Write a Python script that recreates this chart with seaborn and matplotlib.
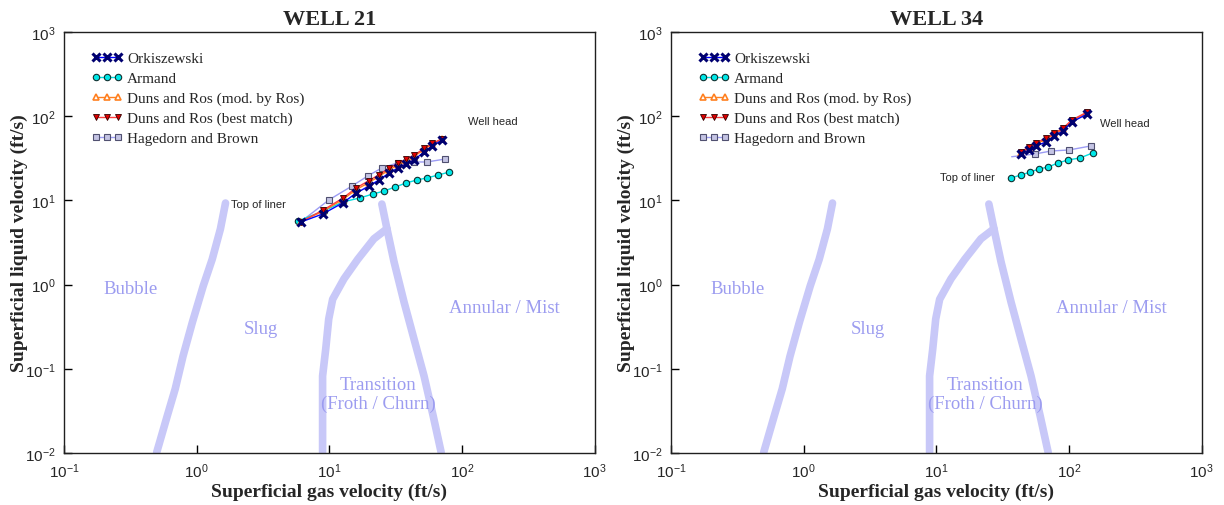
import matplotlib
matplotlib.use("Agg")
import matplotlib.pyplot as plt
import matplotlib.ticker as mticker
import pandas as pd
import seaborn as sns

# ---- flow regime boundaries (same map for both wells)
bubble_x = [1.65, 1.51, 1.31, 1.12, 0.93, 0.79, 0.69, 0.60, 0.50]
bubble_y = [9.3, 4.57, 2.0, 0.96, 0.36, 0.142, 0.058, 0.0275, 0.0102]
slug_x = [8.9, 8.9, 9.4, 9.9, 10.6, 12.9, 16.4, 21.7, 27.2]
slug_y = [0.0102, 0.082, 0.172, 0.39, 0.67, 1.17, 2.0, 3.5, 4.6]
annular_x = [24.9, 27.2, 30.8, 36.6, 43.5, 51.8, 60.7, 69.7]
annular_y = [9.05, 4.6, 1.85, 0.62, 0.226, 0.082, 0.0275, 0.0102]

# ---- WELL 21
w21_ork_x = [6.1, 8.9, 12.6, 15.9, 19.9, 23.7, 28.2, 33.0, 37.9, 43.5, 51.8, 59.6, 71.0]
w21_ork_y = [5.53, 6.89, 9.31, 12.2, 14.8, 17.5, 21.1, 24.3, 27.1, 30.2, 37.6, 44.3, 52.1]
w21_arm_x = [5.78, 9.08, 12.6, 17.0, 21.3, 25.8, 31.3, 37.9, 45.9, 54.6, 66.1, 80.1]
w21_arm_y = [5.69, 7.49, 9.57, 10.7, 11.9, 12.9, 14.4, 16.1, 17.5, 18.5, 20.0, 21.7]
w21_dmod_y = [5.6, 7.4, 10.2, 13.4, 16.3, 19.3, 23.0, 26.5, 29.6, 33.0, 40.5, 46.5, 53.5]
w21_dbest_y = [5.6, 7.6, 10.6, 14.0, 17.2, 20.2, 24.0, 27.6, 30.8, 34.2, 41.5, 47.5, 54.0]
w21_hag_x = [6.3, 9.9, 14.8, 19.5, 24.9, 33.0, 43.5, 54.6, 74.6]
w21_hag_y = [5.8, 10.1, 14.8, 19.5, 24.3, 28.0, 28.6, 28.6, 31.0]

# ---- WELL 34
w34_ork_x = [43.5, 50.0, 56.5, 67.2, 77.1, 90.1, 105, 137]
w34_ork_y = [35.6, 39.7, 44.3, 49.4, 58.2, 66.7, 85.3, 106]
w34_arm_x = [36.6, 43.5, 50.9, 59.5, 69.5, 82.6, 98.2, 121, 151]
w34_arm_y = [18.5, 20.0, 21.7, 23.6, 24.9, 27.8, 30.2, 31.9, 36.6]
w34_dmod_y = [37, 42, 47, 53, 61, 70, 88, 110]
w34_dbest_y = [38, 43, 48.5, 54.5, 62.5, 72, 90, 112]
w34_hag_x = [37, 55.5, 73.3, 100, 146]
w34_hag_y = [33.0, 35.6, 38.6, 39.7, 44.3]

wells = [
    dict(title="WELL 21", ork_x=w21_ork_x, ork_y=w21_ork_y, arm_x=w21_arm_x, arm_y=w21_arm_y,
         dmod_y=w21_dmod_y, dbest_y=w21_dbest_y, hag_x=w21_hag_x, hag_y=w21_hag_y,
         liner=(2.93, 9.06), head=(172, 87.7)),
    dict(title="WELL 34", ork_x=w34_ork_x, ork_y=w34_ork_y, arm_x=w34_arm_x, arm_y=w34_arm_y,
         dmod_y=w34_dmod_y, dbest_y=w34_dbest_y, hag_x=w34_hag_x, hag_y=w34_hag_y,
         liner=(17.1, 19.0), head=(264, 83)),
]

regions = [("Bubble", 0.32, 0.89), ("Slug", 3.03, 0.297), ("Annular / Mist", 208, 0.54),
           ("Transition\n(Froth / Churn)", 23.3, 0.05)]

sns.set_style("ticks")
plt.rcParams["font.family"] = ["Liberation Sans", "DejaVu Sans"]
SERIF = ["Liberation Serif", "DejaVu Serif"]
BOUND_COL = "#c8c8f8"
REGION_COL = "#9c9cf0"

fig = plt.figure(figsize=(12.24, 5.06), dpi=100)
lefts = [64 / 1224, 671 / 1224]

for left, w in zip(lefts, wells):
    ax = fig.add_axes([left, 1 - 454 / 506, 0.4335, 421 / 506])

    for bx, by in [(bubble_x, bubble_y), (slug_x, slug_y), (annular_x, annular_y)]:
        sns.lineplot(x=bx, y=by, sort=False, estimator=None, ax=ax, color=BOUND_COL,
                     lw=5.5, solid_capstyle="round", zorder=1)

    for txt, tx, ty in regions:
        ax.text(tx, ty, txt, ha="center", va="center", fontsize=13.5, color=REGION_COL,
                family=SERIF, linespacing=1.1)

    def series(xs, ys, ms=4.6, **kw):
        df = pd.DataFrame({"x": xs, "y": ys})
        sns.lineplot(data=df, x="x", y="y", sort=False, estimator=None, ax=ax,
                     lw=1, markersize=ms, zorder=3, **kw)

    series(w["hag_x"], w["hag_y"], color="#9c9cf4", marker="s", markerfacecolor="#c4c4e4",
           markeredgecolor="#505070", markeredgewidth=0.8, markevery=slice(1, None),
           label="Hagedorn and Brown")
    series(w["arm_x"], w["arm_y"], color="#00e0e0", marker="o", markerfacecolor="#00e8e8",
           markeredgecolor="#103030", markeredgewidth=0.8, label="Armand")
    series(w["ork_x"], w["dmod_y"], color="#ff8020", marker="^", markerfacecolor="white",
           markeredgecolor="#ff8020", markeredgewidth=1.2, label="Duns and Ros (mod. by Ros)")
    series(w["ork_x"], w["dbest_y"], color="#ff4040", marker="v", markerfacecolor="#e00000",
           markeredgecolor="#300000", markeredgewidth=0.6, label="Duns and Ros (best match)")
    series(w["ork_x"], w["ork_y"], ms=5.2, color="#0000ff", marker="x", markeredgecolor="#000070",
           markeredgewidth=2.2, label="Orkiszewski")

    ax.text(*w["liner"], "Top of liner", ha="center", va="center", fontsize=8)
    ax.text(*w["head"], "Well head", ha="center", va="center", fontsize=8)

    ax.set_xscale("log")
    ax.set_yscale("log")
    ax.set_xlim(0.1, 1000)
    ax.set_ylim(0.01, 1000)
    ax.xaxis.set_major_locator(mticker.LogLocator(base=10, numticks=10))
    ax.yaxis.set_major_locator(mticker.LogLocator(base=10, numticks=10))
    ax.minorticks_off()
    ax.tick_params(direction="in", length=6, width=1, labelsize=11, pad=6,
                   top=False, right=False, color="black")
    for sp in ax.spines.values():
        sp.set_visible(True)
        sp.set_color("#202020")
        sp.set_linewidth(1)

    ax.set_xlabel("Superficial gas velocity (ft/s)", fontsize=14, fontweight="bold",
                  family=SERIF, labelpad=2)
    ax.set_ylabel("Superficial liquid velocity (ft/s)", fontsize=14, fontweight="bold",
                  family=SERIF, labelpad=-2)
    ax.set_title(w["title"], fontsize=16, fontweight="bold", family=SERIF, pad=6)

    h, l = ax.get_legend_handles_labels()
    order = ["Orkiszewski", "Armand", "Duns and Ros (mod. by Ros)",
             "Duns and Ros (best match)", "Hagedorn and Brown"]
    hd = dict(zip(l, h))
    ax.legend([hd[k] for k in order], order, loc="upper left", bbox_to_anchor=(0.041, 0.968),
              frameon=False, numpoints=3, handlelength=2.0, handletextpad=0.3,
              labelspacing=0.41, borderaxespad=0, prop={"family": SERIF, "size": 11})

fig.savefig("out.png", dpi=100)
